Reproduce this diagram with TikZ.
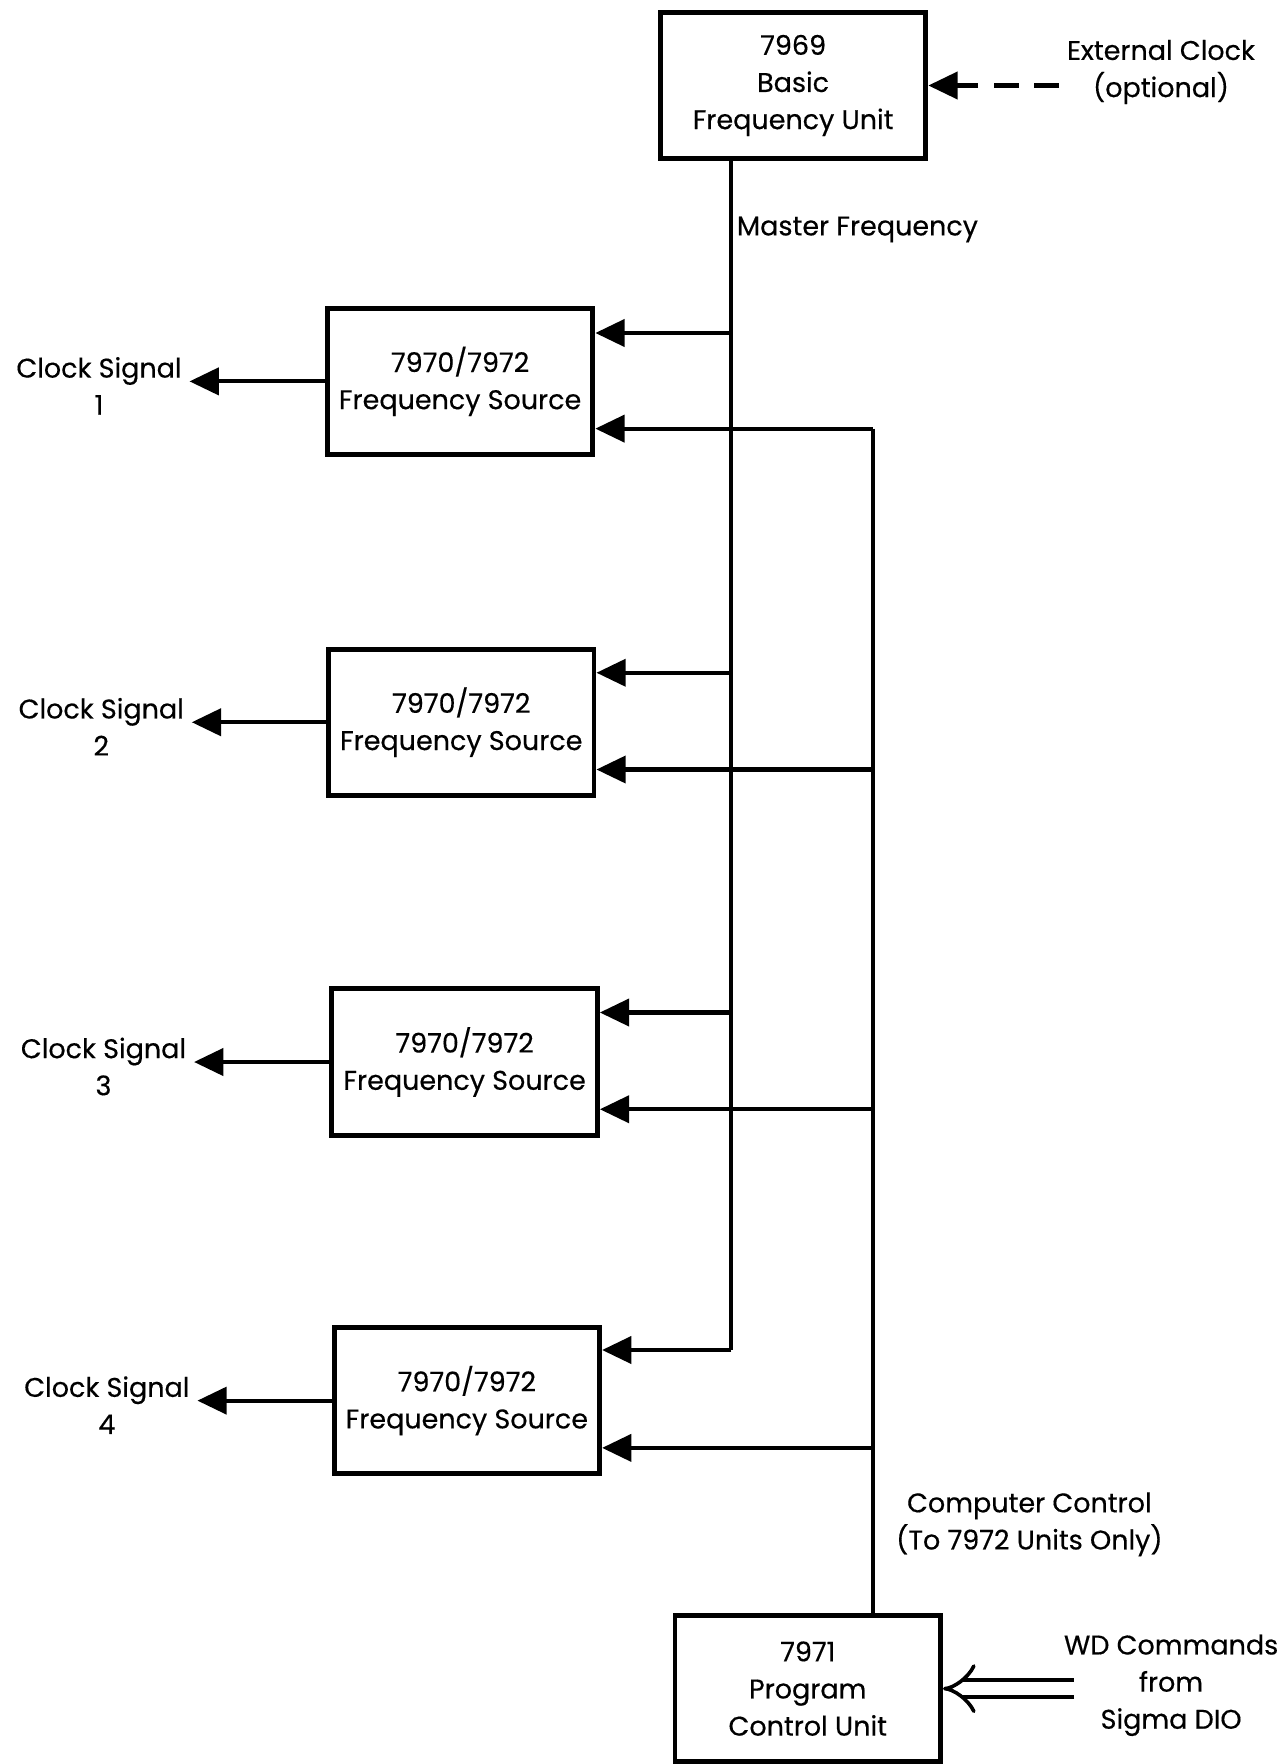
\documentclass[tikz,border=0pt]{standalone}
\usepackage{fontspec}
\setmainfont{Poppins}[FakeBold=0.4]
\usetikzlibrary{arrows.meta}

\begin{document}
\begin{tikzpicture}
        [x=0.5pt, y=-0.5pt,
        unit/.style={draw, line width=2.2pt, minimum width=118pt, minimum height=65pt, align=center, font=\fontsize{12}{16.5}\selectfont},
        txt/.style={align=center, font=\fontsize{12}{16.5}\selectfont},
        wire/.style={line width=1.8pt},
        feed/.style={wire, -{Triangle[length=13pt, width=12pt]}},
        dio/.style={line width=1.6pt, double distance=6pt, -{Implies[length=11pt]}}]

        \useasboundingbox (0,0) rectangle (1142,1568);

        % Units
        \node[unit] (bfu) at (705,76) {7969\\Basic\\Frequency Unit};
        \node[unit] (fs1) at (409,339) {7970/7972\\Frequency Source};
        \node[unit] (fs2) at (410,642) {7970/7972\\Frequency Source};
        \node[unit] (fs3) at (413,944) {7970/7972\\Frequency Source};
        \node[unit] (fs4) at (415,1245) {7970/7972\\Frequency Source};
        \node[unit] (pcu) at (718,1501) {7971\\Program\\Control Unit};

        % Labels
        \node[txt] (ext) at (1032,64) {External Clock\\(optional)};
        \node[txt, anchor=west] (mf) at (648,204) {Master Frequency};
        \node[txt] (cs1) at (88,343) {Clock Signal\\1};
        \node[txt] (cs2) at (90,646) {Clock Signal\\2};
        \node[txt] (cs3) at (92,948) {Clock Signal\\3};
        \node[txt] (cs4) at (95,1249) {Clock Signal\\4};
        \node[txt] (cc) at (915,1355) {Computer Control\\(To 7972 Units Only)};
        \node[txt] (wd) at (1041,1498) {WD Commands\\from\\Sigma DIO};

        % Taps on the master frequency line
        \coordinate (m1) at (650,296);
        \coordinate (m2) at (650,598);
        \coordinate (m3) at (650,900);
        \coordinate (m4) at (650,1200);

        % Taps on the computer control line
        \coordinate (c1) at (776,381);
        \coordinate (c2) at (776,684);
        \coordinate (c3) at (776,986);
        \coordinate (c4) at (776,1287);

        % Master frequency
        \draw[wire] (m4 |- bfu.south) -- (m4);
        \draw[feed] (m1) -- (m1 -| fs1.east);
        \draw[feed] (m2) -- (m2 -| fs2.east);
        \draw[feed] (m3) -- (m3 -| fs3.east);
        \draw[feed] (m4) -- (m4 -| fs4.east);

        % Computer control
        \draw[wire] (c1) -- (c1 |- pcu.north);
        \draw[feed] (c1) -- (c1 -| fs1.east);
        \draw[feed] (c2) -- (c2 -| fs2.east);
        \draw[feed] (c3) -- (c3 -| fs3.east);
        \draw[feed] (c4) -- (c4 -| fs4.east);

        % Clock signal outputs
        \draw[feed] (fs1.west) -- (cs1.east |- fs1.west);
        \draw[feed] (fs2.west) -- (cs2.east |- fs2.west);
        \draw[feed] (fs3.west) -- (cs3.east |- fs3.west);
        \draw[feed] (fs4.west) -- (cs4.east |- fs4.west);

        % External inputs
        \draw[feed, dash pattern=on 11pt off 7pt] (ext.west |- bfu.east) -- (bfu.east);
        \draw[dio] ([xshift=8pt]wd.west |- pcu.east) -- (pcu.east);

    \end{tikzpicture}
\end{document}
